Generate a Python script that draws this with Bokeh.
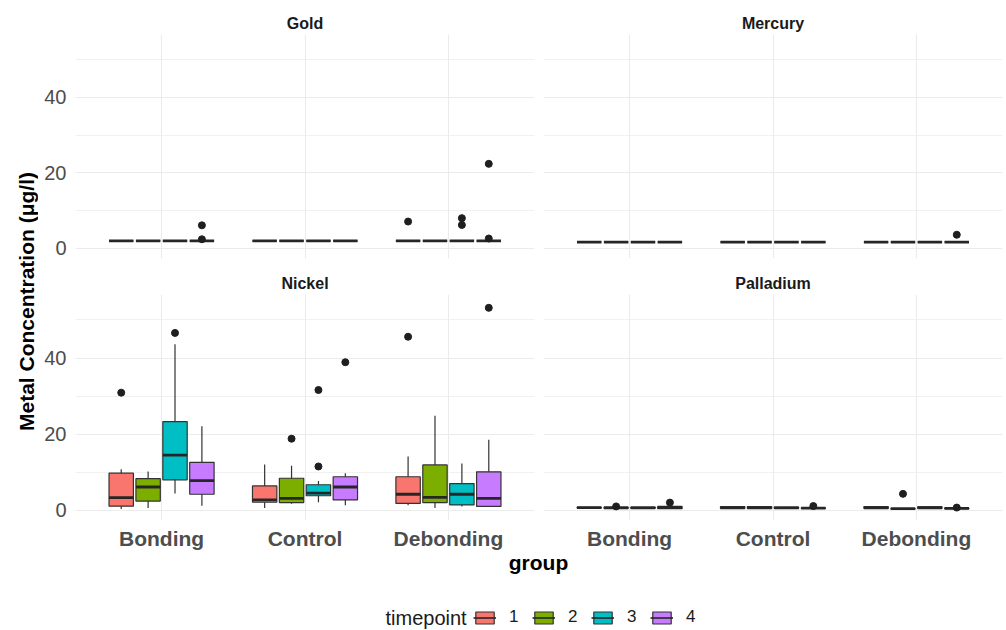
from bokeh.plotting import figure
from bokeh.models import Range1d, FixedTicker, Label, Legend, LegendItem
from bokeh.layouts import row, column
from bokeh.embed import file_html
from bokeh.resources import INLINE
import math

# ---------------- data ----------------
groups = ["Bonding", "Control", "Debonding"]
timepoints = ["1", "2", "3", "4"]
tp_colors = ["#F8766D", "#7CAE00", "#00BFC4", "#C77CFF"]
y_ticks = [0, 20, 40]
y_minor = [10, 30, 50]

# box statistics, order: Bonding t1..t4, Control t1..t4, Debonding t1..t4
gold_q1 = [2.0, 2.0, 2.0, 2.0, 2.0, 2.0, 2.0, 2.0, 2.0, 2.0, 2.0, 2.0]
gold_med = [2.0, 2.0, 2.0, 2.0, 2.0, 2.0, 2.0, 2.0, 2.0, 2.0, 2.0, 2.0]
gold_q3 = [2.0, 2.0, 2.0, 2.0, 2.0, 2.0, 2.0, 2.0, 2.0, 2.0, 2.0, 2.0]
gold_lo = [2.0, 2.0, 2.0, 2.0, 2.0, 2.0, 2.0, 2.0, 2.0, 2.0, 2.0, 2.0]
gold_hi = [2.0, 2.0, 2.0, 2.0, 2.0, 2.0, 2.0, 2.0, 2.0, 2.0, 2.0, 2.0]
gold_out_group = ["Bonding", "Bonding", "Debonding", "Debonding", "Debonding", "Debonding", "Debonding"]
gold_out_tp = ["4", "4", "1", "3", "3", "4", "4"]
gold_out_val = [6.1, 2.4, 7.1, 8.0, 6.2, 22.4, 2.6]

mercury_q1 = [1.65, 1.65, 1.65, 1.65, 1.65, 1.65, 1.65, 1.65, 1.65, 1.65, 1.65, 1.65]
mercury_med = [1.65, 1.65, 1.65, 1.65, 1.65, 1.65, 1.65, 1.65, 1.65, 1.65, 1.65, 1.65]
mercury_q3 = [1.65, 1.65, 1.65, 1.65, 1.65, 1.65, 1.65, 1.65, 1.65, 1.65, 1.65, 1.65]
mercury_lo = [1.65, 1.65, 1.65, 1.65, 1.65, 1.65, 1.65, 1.65, 1.65, 1.65, 1.65, 1.65]
mercury_hi = [1.65, 1.65, 1.65, 1.65, 1.65, 1.65, 1.65, 1.65, 1.65, 1.65, 1.65, 1.65]
mercury_out_group = ["Debonding"]
mercury_out_tp = ["4"]
mercury_out_val = [3.6]

nickel_q1 = [1.06, 2.4, 8.0, 4.2, 2.1, 2.0, 3.8, 2.7, 1.8, 2.0, 1.4, 1.0]
nickel_med = [3.3, 6.1, 14.5, 7.8, 2.7, 3.1, 4.5, 6.1, 4.2, 3.4, 4.2, 3.1]
nickel_q3 = [9.75, 8.3, 23.3, 12.6, 6.4, 8.4, 6.7, 8.8, 8.8, 11.9, 7.0, 10.1]
nickel_lo = [0.35, 0.6, 4.4, 1.2, 0.6, 1.7, 2.1, 1.3, 1.3, 0.6, 1.0, 1.0]
nickel_hi = [10.8, 10.2, 43.6, 22.1, 12.0, 11.7, 7.7, 9.7, 14.1, 24.8, 12.3, 18.5]
nickel_out_group = ["Bonding", "Bonding", "Control", "Control", "Control", "Control", "Debonding", "Debonding"]
nickel_out_tp = ["1", "3", "2", "3", "3", "4", "1", "4"]
nickel_out_val = [30.9, 46.6, 18.8, 11.5, 31.6, 38.9, 45.6, 53.2]

palladium_q1 = [0.6, 0.55, 0.5, 0.4, 0.45, 0.45, 0.5, 0.5, 0.45, 0.35, 0.5, 0.4]
palladium_med = [0.7, 0.65, 0.6, 0.7, 0.6, 0.6, 0.6, 0.55, 0.6, 0.4, 0.65, 0.5]
palladium_q3 = [0.75, 0.7, 0.8, 1.0, 0.95, 0.95, 0.85, 0.6, 0.95, 0.45, 0.9, 0.55]
palladium_lo = [0.6, 0.5, 0.5, 0.4, 0.4, 0.4, 0.5, 0.5, 0.4, 0.35, 0.5, 0.4]
palladium_hi = [0.75, 0.75, 0.8, 1.0, 1.0, 1.0, 0.9, 0.6, 1.0, 0.45, 0.9, 0.6]
palladium_out_group = ["Bonding", "Bonding", "Control", "Debonding", "Debonding"]
palladium_out_tp = ["2", "4", "4", "2", "4"]
palladium_out_val = [1.0, 2.0, 1.1, 4.3, 0.7]

# ---------------- styling ----------------
FONT = "Liberation Sans"
GRID = "#EBEBEB"
EDGE = "#333333"
DODGE = [-0.28125, -0.09375, 0.09375, 0.28125]
BOXW = 0.17
YR = (-2.7, 56.7)
XR = (0.4, 3.6)


def xpos(g, t):
    return groups.index(g) + 1 + DODGE[timepoints.index(t)]


def panel(title, q1, med, q3, lo, hi, og, ot, ov, show_x, show_y, w, h,
          bl, br, bt, bb):
    p = figure(width=w, height=h, output_backend="svg", toolbar_location=None,
               x_range=Range1d(*XR), y_range=Range1d(*YR), title=title,
               x_axis_location=("below" if show_x else None),
               y_axis_location=("left" if show_y else None),
               min_border_left=bl, min_border_right=br,
               min_border_top=bt, min_border_bottom=bb)
    p.outline_line_color = None
    p.background_fill_color = "white"
    p.border_fill_color = "white"
    p.title.align = "center"
    p.title.text_font = FONT
    p.title.text_font_size = "16px"
    p.title.text_font_style = "bold"
    p.title.text_color = "#1a1a1a"
    p.title.standoff = 5

    p.ygrid.ticker = FixedTicker(ticks=y_ticks, minor_ticks=y_minor)
    p.ygrid.grid_line_color = GRID
    p.ygrid.grid_line_width = 1.1
    p.ygrid.minor_grid_line_color = GRID
    p.ygrid.minor_grid_line_width = 0.7
    p.xgrid.ticker = FixedTicker(ticks=[1, 2, 3])
    p.xgrid.grid_line_color = GRID
    p.xgrid.grid_line_width = 1.1

    if show_y:
        ax = p.yaxis[0]
        ax.ticker = FixedTicker(ticks=y_ticks, minor_ticks=[])
        ax.axis_line_color = None
        ax.major_tick_line_color = None
        ax.minor_tick_line_color = None
        ax.major_label_text_font = FONT
        ax.major_label_text_font_size = "20px"
        ax.major_label_text_color = "#4D4D4D"
        ax.major_label_standoff = 3
    if show_x:
        ax = p.xaxis[0]
        ax.ticker = FixedTicker(ticks=[1, 2, 3])
        ax.major_label_overrides = {i + 1: g for i, g in enumerate(groups)}
        ax.axis_line_color = None
        ax.major_tick_line_color = None
        ax.minor_tick_line_color = None
        ax.major_label_text_font = FONT
        ax.major_label_text_font_size = "21px"
        ax.major_label_text_font_style = "bold"
        ax.major_label_text_color = "#4D4D4D"
        ax.major_label_standoff = 0

    xs, cols = [], []
    for g in groups:
        for i, t in enumerate(timepoints):
            xs.append(xpos(g, t))
            cols.append(tp_colors[i])
    p.segment(x0=xs, x1=xs, y0=lo, y1=hi, line_color=EDGE, line_width=1.2)
    p.vbar(x=xs, width=BOXW, bottom=q1, top=q3, fill_color=cols,
           line_color=EDGE, line_width=1.2)
    p.segment(x0=[x - BOXW / 2 for x in xs], x1=[x + BOXW / 2 for x in xs],
              y0=med, y1=med, line_color="#262626", line_width=2.8)
    oxs = [xpos(g, t) for g, t in zip(og, ot)]
    p.scatter(x=oxs, y=ov, size=7, fill_color="#1f1f1f", line_color="#1f1f1f")
    return p


TOP_H = 268
BOT_H = 284
LW, RW = 500, 466

gold = panel("Gold", gold_q1, gold_med, gold_q3, gold_lo, gold_hi,
             gold_out_group, gold_out_tp, gold_out_val,
             False, True, LW, TOP_H, 37, 4, 34, 10)
mercury = panel("Mercury", mercury_q1, mercury_med, mercury_q3, mercury_lo, mercury_hi,
                mercury_out_group, mercury_out_tp, mercury_out_val,
                False, False, RW, TOP_H, 5, 2, 34, 10)
nickel = panel("Nickel", nickel_q1, nickel_med, nickel_q3, nickel_lo, nickel_hi,
               nickel_out_group, nickel_out_tp, nickel_out_val,
               True, True, LW, BOT_H, 37, 4, 26, 32)
palladium = panel("Palladium", palladium_q1, palladium_med, palladium_q3, palladium_lo,
                  palladium_hi, palladium_out_group, palladium_out_tp, palladium_out_val,
                  True, False, RW, BOT_H, 5, 2, 26, 32)

# y-axis title strip
YL_W = 38
YL_H = TOP_H + BOT_H
ylab = figure(width=YL_W, height=YL_H, output_backend="svg", toolbar_location=None,
              x_axis_type=None, y_axis_type=None, x_range=Range1d(0, YL_W),
              y_range=Range1d(0, YL_H), min_border=0)
ylab.outline_line_color = None
ylab.add_layout(Label(x=26, y=YL_H - 301, text="Metal Concentration (μg/l)",
                      angle=math.pi / 2, text_align="center", text_baseline="middle",
                      text_font=FONT, text_font_size="21px", text_font_style="bold",
                      text_color="black"))

# bottom strip: x title + legend
BW, BH = YL_W + LW + RW, 77
bot = figure(width=BW, height=BH, output_backend="svg", toolbar_location=None,
             x_axis_type=None, y_axis_type=None, x_range=Range1d(0, BW),
             y_range=Range1d(0, BH), min_border=0)
bot.outline_line_color = None
bot.add_layout(Label(x=538, y=BH - 10, text="group", text_align="center",
                     text_baseline="middle", text_font=FONT, text_font_size="21px",
                     text_font_style="bold", text_color="black"))
bot.add_layout(Label(x=385, y=12, text="timepoint", text_align="left",
                     text_baseline="middle", text_font=FONT, text_font_size="20px",
                     text_color="#1a1a1a"))
items = []
for t, c in zip(timepoints, tp_colors):
    # one off-canvas point so that the legend can draw the key glyph
    rb = bot.vbar(x=[-1000], width=1, top=[-1000], bottom=[-1001], fill_color=c,
                  line_color=EDGE, line_width=1.2)
    rm = bot.segment(x0=[-1000], x1=[-999], y0=[-1000], y1=[-1000],
                     line_color="#262626", line_width=1.6)
    items.append(LegendItem(label=t, renderers=[rb, rm]))
leg = Legend(items=items, orientation="horizontal", location=(473, 2),
             glyph_width=23, glyph_height=15, label_standoff=13, spacing=13,
             label_width=10, label_text_font=FONT, label_text_font_size="17px",
             label_text_color="#1a1a1a", border_line_color=None,
             background_fill_alpha=0, padding=0, margin=0)
bot.add_layout(leg)

layout = column(row(ylab, column(row(gold, mercury), row(nickel, palladium))), bot)

open("out.html", "w").write(file_html(layout, INLINE))
